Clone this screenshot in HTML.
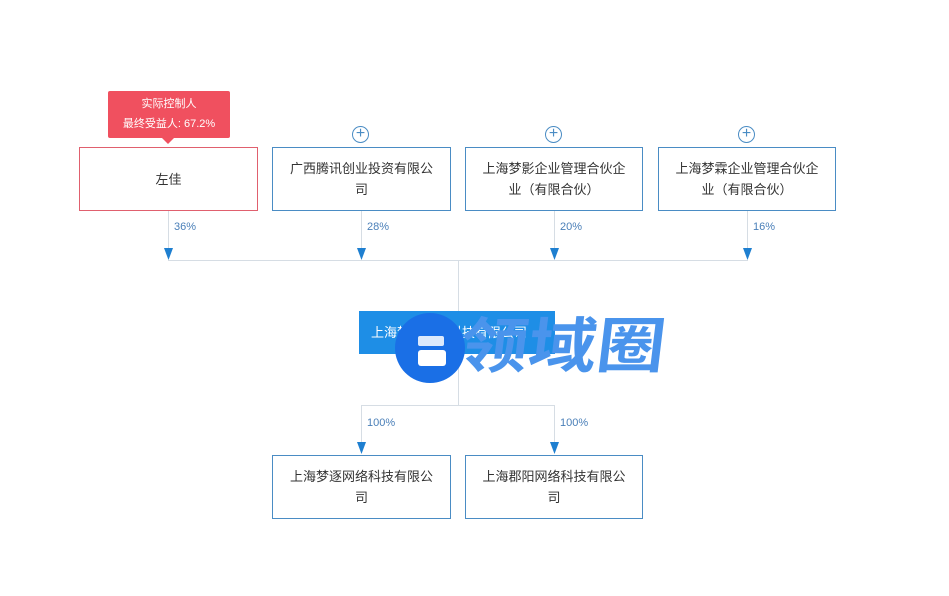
<!DOCTYPE html>
<html><head><meta charset="utf-8"><style>
body{margin:0;width:949px;height:596px;background:#fff;position:relative;overflow:hidden;font-family:"Liberation Sans","Noto Sans CJK SC",sans-serif;}
.b{position:absolute;box-sizing:border-box;border:1px solid #4a8cc4;background:#fff;display:flex;align-items:center;justify-content:center;text-align:center;font-size:13px;color:#333;line-height:21px;padding:0 16px}
.p{position:absolute;font-size:11px;color:#4a7fb8}
.plus{position:absolute;width:17px;height:17px;border:1px solid #4a8cc4;border-radius:50%;box-sizing:border-box;color:#4a8cc4;font-size:16px;line-height:14px;text-align:center;background:#fff}
</style></head><body>
<svg width="949" height="596" style="position:absolute;left:0;top:0">
<g stroke="#d6dde4" stroke-width="1" fill="none">
<line x1="168.5" y1="211" x2="168.5" y2="250"/><line x1="361.5" y1="211" x2="361.5" y2="250"/>
<line x1="554.5" y1="211" x2="554.5" y2="250"/><line x1="747.5" y1="211" x2="747.5" y2="250"/>
<line x1="168" y1="260.5" x2="748" y2="260.5"/>
<line x1="458.5" y1="260" x2="458.5" y2="311"/>
<line x1="458.5" y1="354" x2="458.5" y2="405"/>
<line x1="361" y1="405.5" x2="555" y2="405.5"/>
<line x1="361.5" y1="405" x2="361.5" y2="444"/><line x1="554.5" y1="405" x2="554.5" y2="444"/>
</g>
<g fill="#1e7fd0">
<polygon points="164,248 173,248 168.5,260"/><polygon points="357,248 366,248 361.5,260"/>
<polygon points="550,248 559,248 554.5,260"/><polygon points="743,248 752,248 747.5,260"/>
<polygon points="357,442 366,442 361.5,454"/><polygon points="550,442 559,442 554.5,454"/>
</g>
</svg>
<div style="position:absolute;left:108px;top:91px;width:122px;height:47px;background:#f0505f;border-radius:2px;color:#fff;font-size:11px;text-align:center;line-height:20px;padding-top:3px;box-sizing:border-box">实际控制人<br>最终受益人: 67.2%</div>
<div style="position:absolute;left:162px;top:138px;width:0;height:0;border-left:6px solid transparent;border-right:6px solid transparent;border-top:6px solid #f0505f"></div>
<div class="b" style="left:79px;top:147px;width:179px;height:64px;border-color:#e0606e">左佳</div>
<div class="b" style="left:272px;top:147px;width:179px;height:64px">广西腾讯创业投资有限公司</div>
<div class="b" style="left:465px;top:147px;width:178px;height:64px">上海梦影企业管理合伙企业（有限合伙）</div>
<div class="b" style="left:658px;top:147px;width:178px;height:64px">上海梦霖企业管理合伙企业（有限合伙）</div>
<div class="plus" style="left:352px;top:126px">+</div>
<div class="plus" style="left:545px;top:126px">+</div>
<div class="plus" style="left:738px;top:126px">+</div>
<div class="p" style="left:174px;top:221px">36%</div>
<div class="p" style="left:367px;top:221px">28%</div>
<div class="p" style="left:560px;top:221px">20%</div>
<div class="p" style="left:753px;top:221px">16%</div>
<div style="position:absolute;left:359px;top:311px;width:196px;height:43px;background:#1e8ee6;color:#fff;font-size:13px;line-height:43px;padding-left:12px;box-sizing:border-box">上海梦来网络科技有限公司</div>
<div style="position:absolute;left:395px;top:313px;width:70px;height:70px;border-radius:50%;background:#1a6fe6"></div>
<div style="position:absolute;left:418px;top:336px;width:26px;height:10px;background:#fff;opacity:.85;border-radius:2px"></div>
<div style="position:absolute;left:418px;top:350px;width:28px;height:16px;background:#fff;border-radius:3px"></div>
<div style="position:absolute;left:464px;top:314px;font-size:60px;font-weight:bold;color:#4a94ec;line-height:66px;letter-spacing:0;transform:scaleX(1.14) skewX(-6deg);transform-origin:left top">领域圈</div>
<div class="p" style="left:367px;top:417px">100%</div>
<div class="p" style="left:560px;top:417px">100%</div>
<div class="b" style="left:272px;top:455px;width:179px;height:64px">上海梦逐网络科技有限公司</div>
<div class="b" style="left:465px;top:455px;width:178px;height:64px">上海郡阳网络科技有限公司</div>
</body></html>
